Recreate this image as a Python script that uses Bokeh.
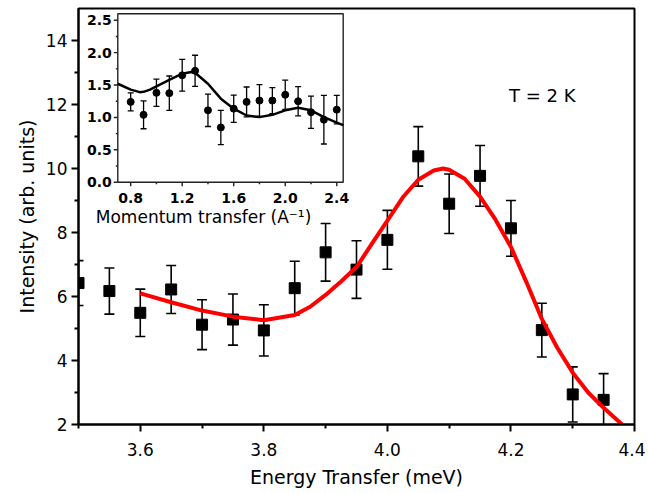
import numpy as np
from bokeh.plotting import figure
from bokeh.models import Range1d, FixedTicker, Label, NumeralTickFormatter
from bokeh.core.properties import value
from bokeh.embed import file_html
from bokeh.resources import INLINE

# ---------------- main panel data ----------------
energy = [3.50, 3.55, 3.60, 3.65, 3.70, 3.75, 3.80, 3.85, 3.90,
          3.95, 4.00, 4.05, 4.10, 4.15, 4.20, 4.25, 4.30, 4.35]
intensity = [6.42, 6.17, 5.49, 6.22, 5.12, 5.28, 4.94, 6.26, 7.38,
             6.84, 7.77, 10.38, 8.90, 9.77, 8.13, 4.95, 2.94, 2.77]
intensity_err = [0.70, 0.72, 0.74, 0.75, 0.78, 0.80, 0.80, 0.84, 0.90,
                 0.90, 0.92, 0.93, 0.93, 0.95, 0.87, 0.84, 0.86, 0.82]

fit_energy = [3.60, 3.65, 3.70, 3.75, 3.80, 3.85, 3.875, 3.90, 3.925, 3.95,
              3.975, 4.00, 4.025, 4.05, 4.075, 4.09, 4.10, 4.125, 4.15, 4.175,
              4.20, 4.225, 4.25, 4.275, 4.30, 4.325, 4.35, 4.38]
fit_intensity = [6.10, 5.82, 5.56, 5.37, 5.26, 5.42, 5.68, 6.05, 6.47, 6.92,
                 7.65, 8.37, 9.10, 9.65, 9.94, 10.00, 9.96, 9.68, 9.12, 8.40,
                 7.55, 6.45, 5.30, 4.40, 3.62, 3.00, 2.52, 2.00]

x_major = [3.6, 3.8, 4.0, 4.2, 4.4]
x_minor = [3.5, 3.7, 3.9, 4.1, 4.3]
y_major = [2, 4, 6, 8, 10, 12, 14]
y_minor = [3, 5, 7, 9, 11, 13]

# ---------------- inset data ----------------
momentum = [0.8, 0.9, 1.0, 1.1, 1.2, 1.3, 1.4, 1.5, 1.6,
            1.7, 1.8, 1.9, 2.0, 2.1, 2.2, 2.3, 2.4]
inset_int = [1.24, 1.04, 1.38, 1.375, 1.65, 1.72, 1.11, 0.845, 1.135,
             1.24, 1.26, 1.26, 1.35, 1.25, 1.08, 0.965, 1.12]
inset_err = [0.14, 0.215, 0.21, 0.265, 0.245, 0.24, 0.25, 0.265, 0.21,
             0.23, 0.245, 0.20, 0.225, 0.225, 0.25, 0.375, 0.22]

curve_q = [0.70, 0.80, 0.87, 0.90, 0.95, 1.00, 1.10, 1.20, 1.27, 1.30, 1.40,
           1.50, 1.60, 1.70, 1.80, 1.90, 2.00, 2.10, 2.20, 2.30, 2.40, 2.45]
curve_i = [1.52, 1.43, 1.39, 1.395, 1.43, 1.48, 1.58, 1.675, 1.70, 1.69, 1.52,
           1.29, 1.135, 1.03, 1.005, 1.04, 1.11, 1.15, 1.11, 1.005, 0.92, 0.88]

inset_x_major = [0.8, 1.2, 1.6, 2.0, 2.4]
inset_x_minor = [1.0, 1.4, 1.8, 2.2]
inset_y_major = [0.0, 0.5, 1.0, 1.5, 2.0, 2.5]
inset_y_minor = [0.25, 0.75, 1.25, 1.75, 2.25]
inset_xlim = (0.7, 2.45)
inset_ylim = (0.0, 2.6)

# ---------------- layout (screen px) ----------------
W, H = 645, 493
FL, FR, FT, FB = 78, 634, 8, 424          # main frame
IL, IR, IT, IB = 117.3, 342.7, 13.3, 181.7  # inset box
PX_PER_Y = 32.0

FONT = "DejaVu Sans"

p = figure(width=W, height=H, output_backend="svg", toolbar_location=None,
           x_range=Range1d(3.5, 4.4),
           y_range=Range1d(2, 2 + (FB - FT) / PX_PER_Y),
           min_border_left=FL, min_border_right=W - FR,
           min_border_top=FT, min_border_bottom=H - FB)
p.grid.visible = False
p.background_fill_color = "white"
p.border_fill_color = "white"
p.outline_line_color = "black"
p.outline_line_width = 2

for ax in (p.xaxis[0], p.yaxis[0]):
    ax.axis_line_width = 2
    ax.major_tick_line_width = 2
    ax.minor_tick_line_width = 2
    ax.major_tick_in = 0
    ax.major_tick_out = 7
    ax.minor_tick_in = 0
    ax.minor_tick_out = 4
    ax.major_label_text_font = FONT
    ax.major_label_text_font_size = "17px"
    ax.major_label_text_color = "black"
    ax.axis_label_text_font = FONT
    ax.axis_label_text_font_size = "19px"
    ax.axis_label_text_font_style = "normal"
    ax.axis_label_text_color = "black"

p.xaxis.ticker = FixedTicker(ticks=x_major, minor_ticks=x_minor)
p.yaxis.ticker = FixedTicker(ticks=y_major, minor_ticks=y_minor)
p.xaxis.formatter = NumeralTickFormatter(format="0.0")
p.xaxis.axis_label = "Energy Transfer (meV)"
p.yaxis.axis_label = "Intensity (arb. units)"
p.xaxis.major_label_standoff = 11
p.xaxis.axis_label_standoff = 7
p.yaxis.major_label_standoff = 4
p.yaxis.axis_label_standoff = 5

# main error bars and squares
e = np.array(energy)
yv = np.array(intensity)
er = np.array(intensity_err)
p.segment(x0=e, y0=yv - er, x1=e, y1=yv + er, line_color="black", line_width=1.6)
p.scatter(x=np.r_[e, e], y=np.r_[yv - er, yv + er], marker="dash", size=10,
          line_color="black", line_width=1.6)
p.scatter(x=e, y=yv, marker="square", size=11, fill_color="black", line_color="black")
p.line(x=fit_energy, y=fit_intensity, line_color="#ff0000", line_width=4)

p.add_layout(Label(x=3.5 + (510 - FL) / 620.0, y=2 + (FB - 95) / PX_PER_Y,
                   text="T = 2 K", text_font=FONT, text_font_size="18px",
                   text_baseline="middle", text_align="left", text_color="black"))

# ---------------- inset via extra ranges ----------------
def mapped_range(lo, hi, f0, f1):
    span = (hi - lo) / (f1 - f0)
    start = lo - f0 * span
    return Range1d(start, start + span)

fw, fh = FR - FL, FB - FT
p.extra_x_ranges = {"ix": mapped_range(inset_xlim[0], inset_xlim[1],
                                       (IL - FL) / fw, (IR - FL) / fw)}
p.extra_y_ranges = {"iy": mapped_range(inset_ylim[0], inset_ylim[1],
                                       (FB - IB) / fh, (FB - IT) / fh)}
kw = dict(x_range_name="ix", y_range_name="iy")

p.quad(left=[inset_xlim[0]], right=[inset_xlim[1]], bottom=[inset_ylim[0]],
       top=[inset_ylim[1]], fill_color="white", line_color="#222222",
       line_width=1.4, **kw)

# inset ticks
p.ray(x=[inset_xlim[0]] * len(inset_y_major), y=inset_y_major, length=4,
      length_units="screen", angle=np.pi, line_color="#222222", line_width=1.4, **kw)
p.ray(x=[inset_xlim[0]] * len(inset_y_minor), y=inset_y_minor, length=2,
      length_units="screen", angle=np.pi, line_color="#222222", line_width=1.4, **kw)
p.ray(x=inset_x_major, y=[inset_ylim[0]] * len(inset_x_major), length=4,
      length_units="screen", angle=-np.pi / 2, line_color="#222222", line_width=1.4, **kw)
p.ray(x=inset_x_minor, y=[inset_ylim[0]] * len(inset_x_minor), length=2,
      length_units="screen", angle=-np.pi / 2, line_color="#222222", line_width=1.4, **kw)

p.text(x=[inset_xlim[0]] * len(inset_y_major), y=inset_y_major,
       text=[f"{v:.1f}" for v in inset_y_major], x_offset=-6,
       text_align="right", text_baseline="middle", text_font=value(FONT),
       text_font_size="14px", text_font_style="bold", text_color="black", **kw)
p.text(x=inset_x_major, y=[inset_ylim[0]] * len(inset_x_major),
       text=[f"{v:.1f}" for v in inset_x_major], y_offset=16,
       text_align="center", text_baseline="middle", text_font=value(FONT),
       text_font_size="14px", text_font_style="bold", text_color="black", **kw)
p.text(x=[inset_xlim[0]], y=[inset_ylim[0]], text=["Momentum transfer (A\u207b\u00b9)"],
       x_offset=-22, y_offset=35, text_align="left", text_baseline="middle",
       text_font=value(FONT), text_font_size="17px", text_color="black", **kw)

# inset data
q = np.array(momentum)
qi = np.array(inset_int)
qe = np.array(inset_err)
p.line(x=curve_q, y=curve_i, line_color="black", line_width=2.5, **kw)
p.segment(x0=q, y0=qi - qe, x1=q, y1=qi + qe, line_color="black", line_width=1.3, **kw)
p.scatter(x=np.r_[q, q], y=np.r_[qi - qe, qi + qe], marker="dash", size=6,
          line_color="black", line_width=1.3, **kw)
p.scatter(x=q, y=qi, marker="circle", size=7, fill_color="black", line_color="black", **kw)

open("out.html", "w").write(file_html(p, INLINE))
